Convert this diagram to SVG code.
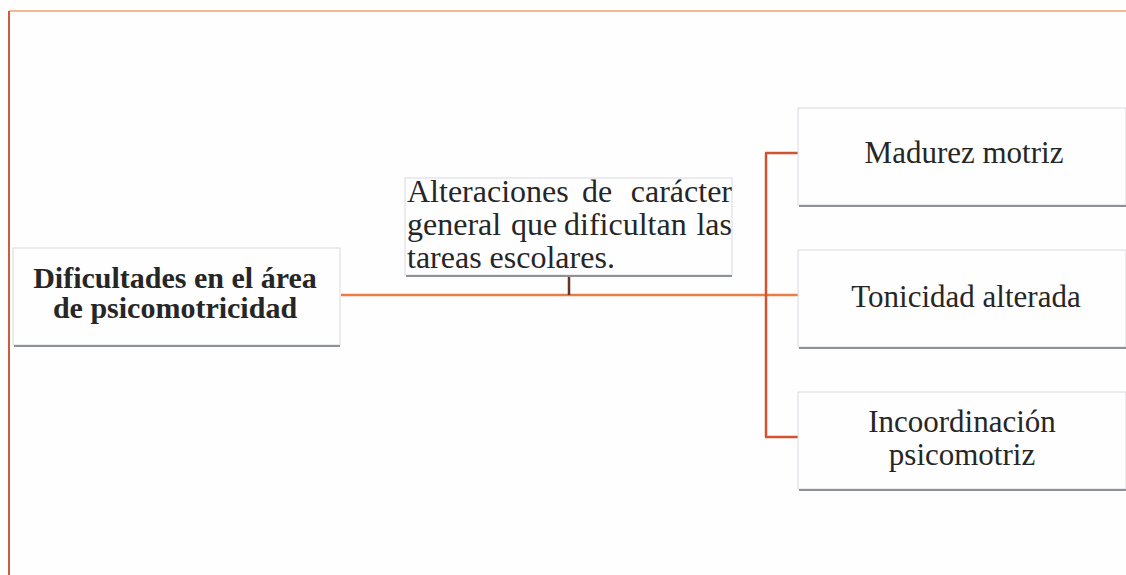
<svg xmlns="http://www.w3.org/2000/svg" width="1126" height="575" viewBox="0 0 1126 575">
<defs>
<style>
.box{fill:#fefefe;stroke:#d8dadf;stroke-width:1}
.shadow{stroke:#8e9196;stroke-width:2}
text{font-family:'Liberation Serif','Times New Roman',Times,serif;font-size:31px;fill:#262626}
.b{font-weight:bold;font-size:30px}
.m{font-size:32px}
.h{fill:none;stroke:#ea7c45;stroke-width:2.5}
.v{fill:none;stroke:#d2532f;stroke-width:2.5}
</style>
</defs>
<rect width="1126" height="575" fill="#fefefe"/>
<line x1="9" y1="11" x2="1126" y2="11" stroke="#f0a070" stroke-width="1.5"/>
<line x1="9" y1="11" x2="9" y2="575" stroke="#d05a3c" stroke-width="2"/>
<g id="connectors">
<line class="h" x1="341" y1="295" x2="798" y2="295"/>
<line x1="569" y1="276" x2="569" y2="295" stroke="#6a3422" stroke-width="2.5"/>
<line class="v" x1="766" y1="153" x2="766" y2="437"/>
<line class="v" x1="765" y1="153" x2="798" y2="153"/>
<line class="v" x1="765" y1="437" x2="798" y2="437"/>
</g>
<g id="root">
<rect class="box" x="13" y="248" width="327" height="97"/>
<line class="shadow" x1="14" y1="346" x2="340" y2="346"/>
<text class="b" x="175" y="288" text-anchor="middle">Dificultades en el área</text>
<text class="b" x="175" y="318" text-anchor="middle">de psicomotricidad</text>
</g>
<g id="desc">
<rect class="box" x="405" y="178" width="327" height="97"/>
<line class="shadow" x1="406" y1="276" x2="732" y2="276"/>
<text class="m" y="202"><tspan x="407">Alteraciones </tspan><tspan x="601" text-anchor="middle">de </tspan><tspan x="732" text-anchor="end">carácter</tspan></text>
<text class="m" y="235"><tspan x="407">general </tspan><tspan x="511">que </tspan><tspan x="564">dificultan </tspan><tspan x="732" text-anchor="end">las</tspan></text>
<text class="m" x="407" y="268">tareas escolares.</text>
</g>
<g id="madurez">
<rect class="box" x="798" y="108" width="328" height="97"/>
<line class="shadow" x1="799" y1="206" x2="1126" y2="206"/>
<text x="964" y="163" text-anchor="middle">Madurez motriz</text>
</g>
<g id="tonicidad">
<rect class="box" x="798" y="250" width="328" height="97"/>
<line class="shadow" x1="799" y1="348" x2="1126" y2="348"/>
<text x="966" y="307" text-anchor="middle">Tonicidad alterada</text>
</g>
<g id="incoordinacion">
<rect class="box" x="798" y="392" width="328" height="97"/>
<line class="shadow" x1="799" y1="490" x2="1126" y2="490"/>
<text x="962" y="432" text-anchor="middle">Incoordinación</text>
<text x="962" y="465" text-anchor="middle">psicomotriz</text>
</g>
</svg>
